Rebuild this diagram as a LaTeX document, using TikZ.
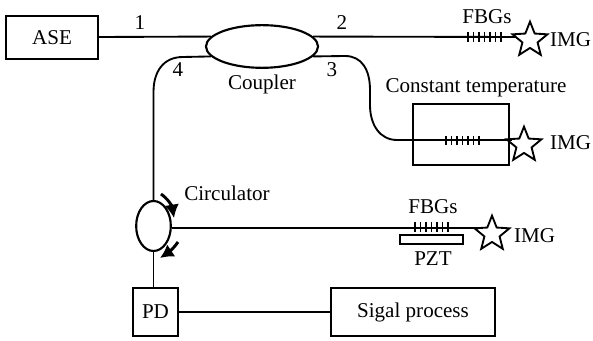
\documentclass[tikz,border=0pt]{standalone}
\usepackage{fontspec}
\setmainfont{Liberation Serif}
\usetikzlibrary{shapes.geometric,arrows.meta}
\tikzset{
  box/.style={draw,line width=1.4pt,inner sep=0pt},
  coupl/.style={draw,ellipse,line width=1.6pt,inner sep=0pt},
  fbgstar/.style={draw,star,star points=5,star point ratio=2.3,line width=1.4pt,inner sep=0pt,minimum size=27.5pt},
  fibre/.style={line width=1.4pt},
  tick/.style={line width=1.2pt},
  turn/.style={line width=2.2pt,-{Latex[length=10pt,width=11pt]}}
}
\begin{document}
\begin{tikzpicture}[x=0.75pt,y=-0.75pt,font=\fontsize{15.8}{18}\selectfont]
\useasboundingbox (0,0) rectangle (593,341);

%------------------------------------------------
% Boxes and couplers
%------------------------------------------------
\node[box,minimum width=69pt,minimum height=32pt] (ase) at (52,37.5) {ASE};
\node[coupl,minimum width=84pt,minimum height=32pt] (coupler) at (262,46.5) {};
\node[coupl,minimum width=26pt,minimum height=37.5pt] (circ) at (153.5,226) {};
\node[box,minimum width=33.5pt,minimum height=36.5pt] (pd) at (155.5,312) {PD};
\node[box,minimum width=123pt,minimum height=36pt] (proc) at (413,312) {Sigal process};
\node[box,minimum width=72pt,minimum height=45.5pt] (oven) at (461,134.5) {};
\node[box,minimum width=47pt,minimum height=7pt] (pzt) at (431.5,239.5) {};

% Stars
\node[fbgstar] (starA) at (530,40) {};
\node[fbgstar] (starB) at (524,145) {};
\node[fbgstar] (starC) at (492,234) {};

%------------------------------------------------
% Fibres
%------------------------------------------------
\coordinate (portB) at (397,140);
\coordinate (endA) at (516,37);
\coordinate (endB) at (512,140);
\coordinate (endC) at (482,228);
\coordinate (pdtop) at (153.5,288);

\draw[fibre] (ase.east |- 0,37) -- (coupler.169);
\draw[fibre] (coupler.11) -- (endA);
\draw[fibre] (coupler.191) -- (183,57) .. controls (163,57) and (153.5,72) .. (153.5,92) -- (circ.north);
\draw[fibre] (coupler.-11) -- (345,56) .. controls (362,56) and (370,70) .. (370,90)
  -- (370,105) .. controls (370,125) and (380,140) .. (portB);
\draw[line width=.8pt] (portB) -- (endB);
\draw[fibre] (circ.east |- 0,228) -- (endC);
\draw[fibre] (circ.south) -- (pdtop);
\draw[fibre] (pd.east) -- (proc.west);

% Gratings
\foreach \x in {468,473.5,...,501} \draw[tick] (\x,32) -- (\x,42);
\foreach \x in {446,451.5,...,480} \draw[tick] (\x,136) -- (\x,145);
\foreach \x in {415,420.5,...,449} \draw[tick] (\x,222) -- (\x,232);

% Circulator arrows
\draw[turn] (161,194) .. controls (168,199) and (172,206) .. (174,218);
\draw[turn] (178,242) .. controls (174,248) and (169,252) .. (160,258);

%------------------------------------------------
% Labels
%------------------------------------------------
\node (lab1) at (140,23) {1};
\node (lab2) at (342,23) {2};
\node (lab3) at (332,70) {3};
\node (lab4) at (178,70) {4};
\node (labcoupler) at (262,84) {Coupler};
\node (labcirc) at (227,193) {Circulator};
\node (labtemp) at (476,88) {Constant temperature};
\node (fbgA) at (487,17) {FBGs};
\node (fbgC) at (433,207) {FBGs};
\node (labpzt) at (433,259) {PZT};
\node (imgA) at (570.5,40) {IMG};
\node (imgB) at (570.5,143) {IMG};
\node (imgC) at (534.5,236) {IMG};

\end{tikzpicture}
\end{document}
